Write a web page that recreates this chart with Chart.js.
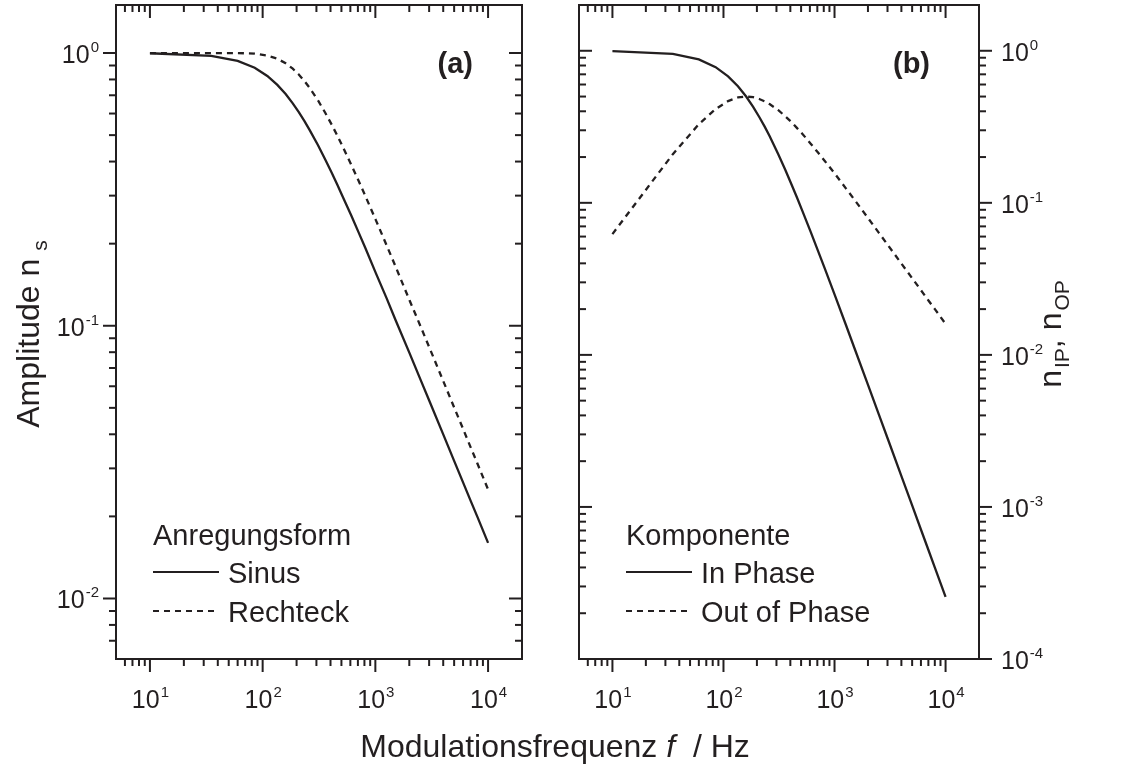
<!DOCTYPE html>
<html>
<head>
<meta charset="utf-8">
<script src="https://cdn.jsdelivr.net/npm/chart.js@4"></script>
<style>
  html, body { margin: 0; padding: 0; background: #ffffff; }
  #wrap { position: relative; width: 1126px; height: 769px; overflow: hidden; }
  #wrap canvas { position: absolute; left: 0; top: 0; }
</style>
</head>
<body>
<div id="wrap">
  <canvas id="panelA" width="1126" height="769"></canvas>
  <canvas id="panelB" width="1126" height="769"></canvas>
</div>
<script>
// ---------------- data ----------------
const freq = [10, 35, 60, 85, 110, 135, 160, 185, 210, 235, 260, 310, 360, 410, 460, 510,
              610, 710, 810, 1010, 1260, 1510, 2010, 2510, 3010, 4010, 5010, 6010, 7010, 8010, 10000];

// panel (a): amplitude n_s
const sinus = [0.998, 0.977, 0.936, 0.883, 0.824, 0.764, 0.707, 0.654, 0.606, 0.563, 0.524, 0.459, 0.406, 0.364, 0.329, 0.299,
               0.254, 0.220, 0.194, 0.156, 0.126, 0.105, 0.0794, 0.0636, 0.0531, 0.0399, 0.0319, 0.0266, 0.0228, 0.0200, 0.0160];
const rechteck = [1.000, 1.000, 1.000, 0.995, 0.979, 0.953, 0.917, 0.876, 0.833, 0.789, 0.747, 0.670, 0.603, 0.546, 0.498, 0.456,
                  0.390, 0.340, 0.301, 0.244, 0.197, 0.165, 0.124, 0.0998, 0.0833, 0.0626, 0.0501, 0.0418, 0.0358, 0.0314, 0.0251];

// panel (b): n_IP, n_OP
const inPhase = [0.996, 0.954, 0.877, 0.780, 0.679, 0.584, 0.500, 0.428, 0.367, 0.317, 0.275, 0.210, 0.165, 0.132, 0.108, 0.0896,
                 0.0644, 0.0483, 0.0376, 0.0245, 0.0159, 0.0111, 0.00630, 0.00405, 0.00282, 0.00159, 0.00102, 0.000708, 0.000521, 0.000399, 0.000256];
const outOfPhase = [0.0623, 0.209, 0.329, 0.414, 0.467, 0.493, 0.500, 0.495, 0.482, 0.465, 0.446, 0.408, 0.371, 0.339, 0.310, 0.286,
                    0.245, 0.214, 0.190, 0.155, 0.125, 0.105, 0.0791, 0.0635, 0.0530, 0.0398, 0.0319, 0.0266, 0.0228, 0.0200, 0.0160];

// axes ranges and ticks
const xRange = [5, 20000];
const yRangeA = [0.006, 1.5];
const yRangeB = [0.0001, 2];
const xMajorTicks = [10, 100, 1000, 10000];
const xTickBase = ['10', '10', '10', '10'];
const xTickExp = ['1', '2', '3', '4'];
const xMinorTicks = [6, 7, 8, 9, 20, 30, 40, 50, 60, 70, 80, 90, 200, 300, 400, 500, 600, 700, 800, 900,
                     2000, 3000, 4000, 5000, 6000, 7000, 8000, 9000];
const yMajorTicksA = [1, 0.1, 0.01];
const yTickBaseA = ['10', '10', '10'];
const yTickExpA = ['0', '-1', '-2'];
const yMinorTicksA = [0.9, 0.8, 0.7, 0.6, 0.5, 0.4, 0.3, 0.2, 0.09, 0.08, 0.07, 0.06, 0.05, 0.04, 0.03, 0.02, 0.009, 0.008, 0.007];
const yMajorTicksB = [1, 0.1, 0.01, 0.001, 0.0001];
const yTickBaseB = ['10', '10', '10', '10', '10'];
const yTickExpB = ['0', '-1', '-2', '-3', '-4'];
const yMinorTicksB = [0.9, 0.8, 0.7, 0.6, 0.5, 0.4, 0.3, 0.2, 0.09, 0.08, 0.07, 0.06, 0.05, 0.04, 0.03, 0.02,
                      0.009, 0.008, 0.007, 0.006, 0.005, 0.004, 0.003, 0.002,
                      0.0009, 0.0008, 0.0007, 0.0006, 0.0005, 0.0004, 0.0003, 0.0002];

// texts
const panelLabels = ['(a)', '(b)'];
const legendTitles = ['Anregungsform', 'Komponente'];
const seriesNamesA = ['Sinus', 'Rechteck'];
const seriesNamesB = ['In Phase', 'Out of Phase'];
const yTitleA = ['Amplitude n', 's'];
const yTitleB = [['n', 'IP'], [', n', 'OP']];
const xTitle = ['Modulationsfrequenz ', 'f', '  / Hz'];

// ---------------- styling / layout ----------------
const W = 1126, H = 769;
const FONT = "'Liberation Sans', Arial, Helvetica, sans-serif";
const INK = '#231f20';
const DASH = [6, 5];
const AREA_A = { left: 116, right: 522, top: 5, bottom: 659 };
const AREA_B = { left: 579, right: 979, top: 5, bottom: 659 };
const MAJOR = 13, MINOR = 7;
const TICK_FONT = 25, SUP_FONT = 15, LEGEND_FONT = 29, TITLE_FONT = 32, SUB_FONT = 21;

function series(ys) { return freq.map((f, i) => ({ x: f, y: ys[i] })); }

function supText(ctx, base, exp, x, y, align, baseSize, supSize) {
  ctx.font = baseSize + 'px ' + FONT;
  const wb = ctx.measureText(base).width;
  ctx.font = supSize + 'px ' + FONT;
  const we = ctx.measureText(exp).width;
  let x0 = x;
  if (align === 'center') x0 = x - (wb + we) / 2;
  else if (align === 'right') x0 = x - (wb + we);
  ctx.textAlign = 'left';
  ctx.textBaseline = 'alphabetic';
  ctx.font = baseSize + 'px ' + FONT;
  ctx.fillText(base, x0, y);
  ctx.font = supSize + 'px ' + FONT;
  ctx.fillText(exp, x0 + wb + 1, y - 11);
}

function tick(ctx, x1, y1, x2, y2) {
  ctx.beginPath(); ctx.moveTo(x1, y1); ctx.lineTo(x2, y2); ctx.stroke();
}

function makeDeco(cfg) {
  return {
    id: 'deco' + cfg.key,
    afterDraw(chart) {
      const ctx = chart.ctx;
      const { left, right, top, bottom } = chart.chartArea;
      const xs = chart.scales.x, ys = chart.scales.y;
      ctx.save();
      ctx.strokeStyle = INK; ctx.fillStyle = INK; ctx.lineWidth = 2; ctx.lineCap = 'butt';
      // frame
      ctx.strokeRect(left, top, right - left, bottom - top);
      // x ticks: bottom outward, top inward
      const drawX = (v, len) => {
        const px = xs.getPixelForValue(v);
        if (px < left - 0.5 || px > right + 0.5) return;
        tick(ctx, px, bottom, px, bottom + len);
        tick(ctx, px, top, px, top + len);
      };
      xMinorTicks.forEach(v => drawX(v, MINOR));
      xMajorTicks.forEach(v => drawX(v, MAJOR));
      // y ticks
      const drawY = (v, len) => {
        const py = ys.getPixelForValue(v);
        if (py < top - 0.5 || py > bottom + 0.5) return;
        if (cfg.leftOut) tick(ctx, left, py, left - len, py); else tick(ctx, left, py, left + len, py);
        if (cfg.rightOut) tick(ctx, right, py, right + len, py); else tick(ctx, right, py, right - len, py);
      };
      cfg.yMinor.forEach(v => drawY(v, MINOR));
      cfg.yMajor.forEach(v => drawY(v, MAJOR));
      // x tick labels
      xMajorTicks.forEach((v, i) => {
        const px = xs.getPixelForValue(v);
        supText(ctx, xTickBase[i], xTickExp[i], px, bottom + 49, 'center', TICK_FONT, SUP_FONT);
      });
      // y tick labels
      cfg.yMajor.forEach((v, i) => {
        const py = ys.getPixelForValue(v);
        if (cfg.labelsLeft) supText(ctx, cfg.yBase[i], cfg.yExp[i], left - 18, py + 10, 'right', TICK_FONT, SUP_FONT);
        else supText(ctx, cfg.yBase[i], cfg.yExp[i], right + 22, py + 10, 'left', TICK_FONT, SUP_FONT);
      });
      // panel label
      ctx.font = 'bold 29px ' + FONT;
      ctx.textAlign = 'right'; ctx.textBaseline = 'alphabetic';
      ctx.fillText(cfg.panelLabel, right - 49, top + 68);
      // legend
      const lx = left + cfg.legendDx;
      ctx.font = LEGEND_FONT + 'px ' + FONT; ctx.textAlign = 'left';
      ctx.fillText(cfg.legendTitle, lx, 545);
      cfg.names.forEach((name, i) => {
        const ly = [572, 611][i];
        ctx.lineWidth = 2;
        ctx.setLineDash(i === 0 ? [] : DASH);
        tick(ctx, lx, ly, lx + 66, ly);
        ctx.setLineDash([]);
        ctx.fillText(name, lx + 75, ly + 11);
      });
      // axis title
      cfg.drawTitle(ctx, chart);
      ctx.restore();
    }
  };
}

function baseOptions(area, yRange) {
  return {
    responsive: false,
    animation: false,
    events: [],
    layout: { padding: { left: area.left, right: W - area.right, top: area.top, bottom: H - area.bottom } },
    plugins: { legend: { display: false }, tooltip: { enabled: false } },
    elements: { point: { radius: 0 }, line: { tension: 0, borderWidth: 2.2, borderColor: INK } },
    scales: {
      x: { type: 'logarithmic', min: xRange[0], max: xRange[1], display: false },
      y: { type: 'logarithmic', min: yRange[0], max: yRange[1], display: false }
    }
  };
}

// ---------------- panel (a) ----------------
new Chart(document.getElementById('panelA'), {
  type: 'line',
  data: {
    datasets: [
      { label: seriesNamesA[0], data: series(sinus), borderColor: INK, borderWidth: 2.3, fill: false },
      { label: seriesNamesA[1], data: series(rechteck), borderColor: INK, borderWidth: 2.3, borderDash: DASH, fill: false }
    ]
  },
  options: baseOptions(AREA_A, yRangeA),
  plugins: [makeDeco({
    key: 'A', leftOut: true, rightOut: false, labelsLeft: true,
    yMajor: yMajorTicksA, yMinor: yMinorTicksA, yBase: yTickBaseA, yExp: yTickExpA,
    panelLabel: panelLabels[0], legendTitle: legendTitles[0], names: seriesNamesA, legendDx: 37,
    drawTitle(ctx, chart) {
      const cy = 334;
      ctx.save();
      ctx.translate(39, cy);
      ctx.rotate(-Math.PI / 2);
      ctx.font = TITLE_FONT + 'px ' + FONT;
      const w1 = ctx.measureText(yTitleA[0]).width;
      ctx.font = SUB_FONT + 'px ' + FONT;
      const w2 = ctx.measureText(yTitleA[1]).width;
      const x0 = -(w1 + 8 + w2) / 2;
      ctx.textAlign = 'left'; ctx.textBaseline = 'alphabetic';
      ctx.font = TITLE_FONT + 'px ' + FONT;
      ctx.fillText(yTitleA[0], x0, 0);
      ctx.font = SUB_FONT + 'px ' + FONT;
      ctx.fillText(yTitleA[1], x0 + w1 + 8, 8);
      ctx.restore();
      // shared x-axis title
      ctx.font = TITLE_FONT + 'px ' + FONT;
      const a = ctx.measureText(xTitle[0]).width;
      ctx.font = 'italic ' + TITLE_FONT + 'px ' + FONT;
      const b = ctx.measureText(xTitle[1]).width;
      ctx.font = TITLE_FONT + 'px ' + FONT;
      const c = ctx.measureText(xTitle[2]).width;
      const x = 555 - (a + b + c) / 2;
      const y = 757;
      ctx.textAlign = 'left';
      ctx.fillText(xTitle[0], x, y);
      ctx.font = 'italic ' + TITLE_FONT + 'px ' + FONT;
      ctx.fillText(xTitle[1], x + a, y);
      ctx.font = TITLE_FONT + 'px ' + FONT;
      ctx.fillText(xTitle[2], x + a + b, y);
    }
  })]
});

// ---------------- panel (b) ----------------
new Chart(document.getElementById('panelB'), {
  type: 'line',
  data: {
    datasets: [
      { label: seriesNamesB[0], data: series(inPhase), borderColor: INK, borderWidth: 2.3, fill: false },
      { label: seriesNamesB[1], data: series(outOfPhase), borderColor: INK, borderWidth: 2.3, borderDash: DASH, fill: false }
    ]
  },
  options: baseOptions(AREA_B, yRangeB),
  plugins: [makeDeco({
    key: 'B', leftOut: false, rightOut: true, labelsLeft: false,
    yMajor: yMajorTicksB, yMinor: yMinorTicksB, yBase: yTickBaseB, yExp: yTickExpB,
    panelLabel: panelLabels[1], legendTitle: legendTitles[1], names: seriesNamesB, legendDx: 47,
    drawTitle(ctx, chart) {
      const cy = 334;
      ctx.save();
      ctx.translate(1061, cy);
      ctx.rotate(-Math.PI / 2);
      ctx.textAlign = 'left'; ctx.textBaseline = 'alphabetic';
      const parts = [];
      let total = 0;
      yTitleB.forEach(([main, sub]) => {
        ctx.font = TITLE_FONT + 'px ' + FONT; const wm = ctx.measureText(main).width;
        ctx.font = SUB_FONT + 'px ' + FONT; const ws = ctx.measureText(sub).width;
        parts.push([main, sub, wm, ws]); total += wm + 2 + ws;
      });
      let x = -total / 2;
      parts.forEach(([main, sub, wm, ws]) => {
        ctx.font = TITLE_FONT + 'px ' + FONT; ctx.fillText(main, x, 0);
        ctx.font = SUB_FONT + 'px ' + FONT; ctx.fillText(sub, x + wm + 2, 8);
        x += wm + 2 + ws;
      });
      ctx.restore();
    }
  })]
});
</script>
</body>
</html>
